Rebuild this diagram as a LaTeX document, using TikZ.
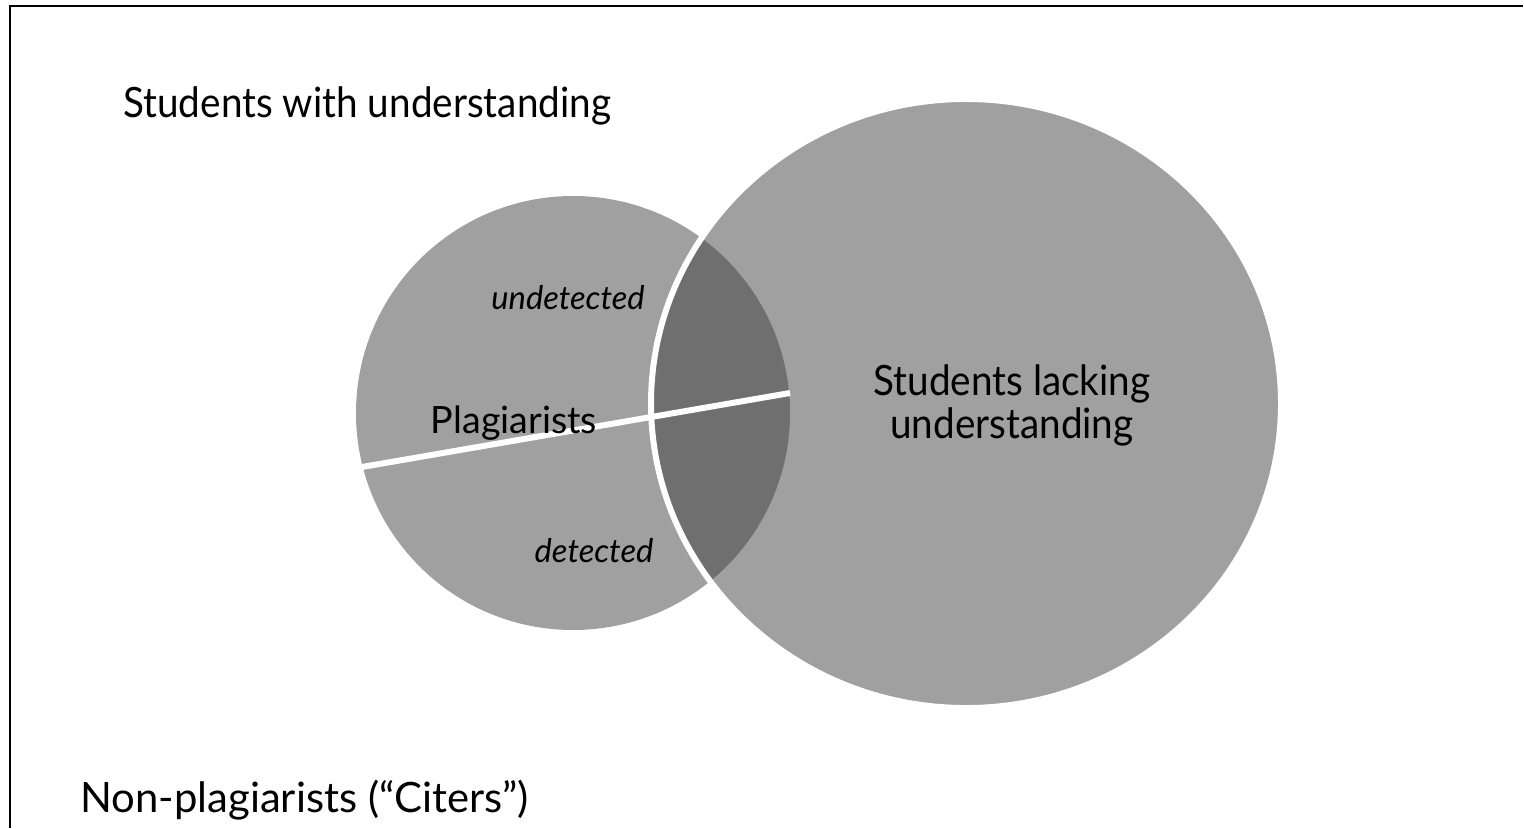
\documentclass[tikz,border=0pt]{standalone}
\usepackage{fontspec}
\setmainfont{Lato}
\newfontfamily\narrowsans{Lato}[FakeStretch=0.925]
\definecolor{setgray}{RGB}{160,160,160}
\definecolor{overlapgray}{RGB}{111,111,111}
\begin{document}
\begin{tikzpicture}[x=0.02cm,y=-0.02cm,
  lbl/.style={inner sep=0pt, text=black},
  bigtext/.style={lbl, font=\fontsize{23.8}{28}\selectfont},
  bignarrow/.style={lbl, font=\fontsize{23.8}{28}\narrowsans},
  midtext/.style={lbl, font=\fontsize{21.4}{24}\selectfont},
  smalltext/.style={lbl, font=\fontsize{18.6}{22}\selectfont\itshape},
  gap/.style={draw=white, line width=3.4pt},
  frame/.style={draw=black, line width=1.13pt}]
\useasboundingbox (0,0) rectangle (1524,828);

% outer frame (left and top edges)
\draw[frame] (10,828) -- (10,6) -- (1523,6);

% plagiarists set
\fill[setgray] (573,413) circle[radius=217];
% students lacking understanding
\fill[setgray] (966,403.5) ellipse[x radius=315, y radius=304.5];
% overlap of the two sets
\begin{scope}
  \clip (573,413) circle[radius=217];
  \fill[overlapgray] (966,403.5) ellipse[x radius=315, y radius=304.5];
\end{scope}
\draw[gap] (966,403.5) ellipse[x radius=315, y radius=304.5];
% split between undetected and detected plagiarists
\draw[gap] (362,467) -- (790,393);

% labels
\node[bignarrow, anchor=base west] (with) at (123,117) {Students with understanding};
\node[bigtext, anchor=base west] (citers) at (80,812) {Non-plagiarists (“Citers”)};
\node[midtext, anchor=base] (plag) at (514,433) {Plagiarists};
\node[smalltext, anchor=base] (undet) at (568,309) {undetected};
\node[smalltext, anchor=base] (det) at (594,562) {detected};
\node[bignarrow, anchor=base] (lackA) at (1012,395) {Students lacking};
\node[bignarrow, anchor=base] (lackB) at (1012,438) {understanding};
\end{tikzpicture}
\end{document}
